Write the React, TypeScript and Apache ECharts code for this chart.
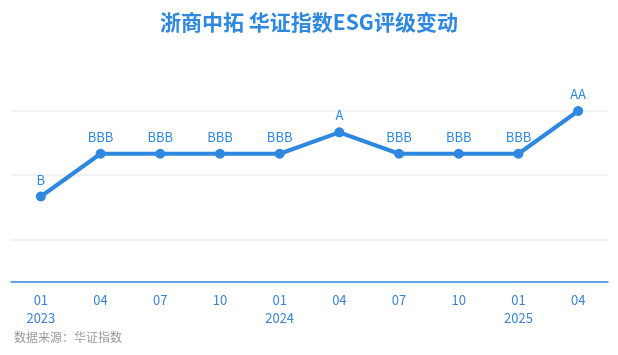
import React, { useEffect, useRef } from "react";
import * as echarts from "echarts";

const categories = ["01\n2023", "04", "07", "10", "01\n2024", "04", "07", "10", "01\n2025", "04"];
const ratings = ["B", "BBB", "BBB", "BBB", "BBB", "A", "BBB", "BBB", "BBB", "AA"];
const ratingScale = ["C", "CC", "CCC", "B", "BB", "BBB", "A", "AA", "AAA"];
const gridLevels = [2, 5, 8];

const values = ratings.map((r) => ratingScale.indexOf(r) + 1);

export default function App() {
  const ref = useRef<HTMLDivElement>(null);
  useEffect(() => {
    if (!ref.current) return;
    const chart = echarts.init(ref.current, undefined, { renderer: "svg" });
    const blue = "#2f88e0";
    chart.setOption({
      animation: false,
      title: {
        text: "浙商中拓 华证指数ESG评级变动",
        left: "center",
        top: 5,
        textStyle: { color: blue, fontSize: 21, fontWeight: "bold", fontFamily: "Noto Sans CJK SC" },
      },
      graphic: [
        {
          type: "text",
          left: 14,
          top: 330,
          style: { text: "数据来源：华证指数", fill: "#9a9a9a", fontSize: 12, fontFamily: "Noto Sans CJK SC" },
        },
      ],
      grid: { left: 11, right: 10, top: 111, bottom: 73 },
      xAxis: {
        type: "category",
        data: categories,
        boundaryGap: true,
        axisLine: { lineStyle: { color: blue, width: 1.5 } },
        axisTick: { alignWithLabel: true, lineStyle: { color: blue } },
        axisLabel: { color: "#3a84d4", fontSize: 13, lineHeight: 18, margin: 8, fontFamily: "Noto Sans CJK SC" },
      },
      yAxis: {
        type: "value",
        min: 0,
        max: 8,
        show: false,
        splitLine: { show: false },
      },
      series: [
        {
          type: "line",
          data: values,
          symbol: "circle",
          symbolSize: 10,
          lineStyle: { color: blue, width: 4 },
          itemStyle: { color: blue },
          label: {
            show: true,
            position: "top",
            distance: 6,
            color: blue,
            fontSize: 13,
            fontFamily: "Noto Sans CJK SC",
            formatter: (p: any) => ratings[p.dataIndex],
          },
          markLine: {
            silent: true,
            symbol: "none",
            label: { show: false },
            lineStyle: { color: "#eeeeee", type: "solid", width: 1.5 },
            data: gridLevels.map((v) => ({ yAxis: v })),
            z: 0,
          },
        },
      ],
    });
    return () => chart.dispose();
  }, []);
  return <div ref={ref} style={{ position: "fixed", left: 0, top: 0, width: 618, height: 355 }} />;
}
